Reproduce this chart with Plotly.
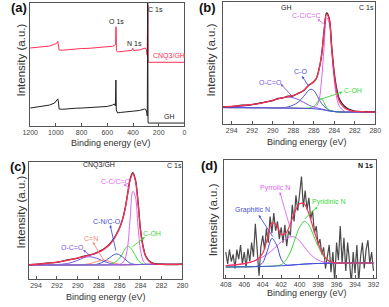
import plotly.graph_objects as go

W, H = 389, 307

# ---------------- Panel (a): survey ----------------
A_RED_E = [1200, 1150, 1100, 1050, 1010, 995, 985, 980, 975, 950, 900, 850, 800, 750, 700, 650, 600, 560,
           545, 536, 532, 529, 520, 500, 450, 410, 402, 396, 350, 305, 296, 290, 287, 285, 283, 281, 250, 200, 100, 0]
A_RED_I = [63.4, 63.8, 64.4, 65.0, 66.5, 67.0, 68.8, 66.0, 61.8, 61.6, 62.2, 62.5, 63.0, 63.1, 63.4, 63.8, 64.2, 64.8,
           65.4, 66.5, 80.7, 61.5, 60.2, 60.6, 61.0, 61.4, 63.2, 61.4, 61.8, 63.4, 62.0, 57.5, 75.0, 98.4, 53.7, 51.8, 51.8, 51.8, 51.8, 51.8]

A_BLK_E = [1200, 1150, 1100, 1050, 1010, 995, 985, 980, 975, 950, 900, 850, 800, 750, 700, 650, 600, 560,
           545, 537, 533, 530, 520, 500, 450, 400, 350, 310, 300, 292, 289, 287, 285.5, 283, 281, 250, 200, 100, 0]
A_BLK_I = [14.6, 15.4, 16.3, 17.0, 18.7, 21.1, 22.0, 19.5, 13.8, 13.6, 14.2, 14.4, 14.6, 14.8, 15.0, 15.4, 15.9, 17.0,
           17.9, 16.3, 37.4, 13.0, 10.6, 11.0, 11.4, 12.2, 12.6, 13.8, 13.4, 10.6, 8.1, 55.0, 102.0, 3.3, 2.4, 2.4, 2.4, 2.4, 2.4]

# ---------------- Panel (b): GH C 1s ----------------
E_B = [295, 294, 293, 292, 291, 290, 289.5, 289, 288.5, 288, 287.5, 287, 286.5, 286.25, 286, 285.75, 285.5,
       285.25, 285, 284.75, 284.5, 284.25, 284, 283.75, 283.5, 283, 282.5, 282, 281, 280]
B_BASE = [13.5, 13.4, 13.4, 13.3, 13.3, 13.2, 13.1, 13.1, 13.0, 13.0, 12.9, 12.8, 12.7, 12.6, 12.5, 12.3, 12.1,
          11.8, 11.5, 11.1, 10.7, 10.4, 10.2, 10.0, 9.9, 9.8, 9.8, 9.8, 9.8, 9.8]
B_DATA = [14.2, 14.3, 15.4, 15.8, 17.6, 19.2, 20.9, 21.5, 22.8, 23.1, 25.3, 27.2, 31.8, 33.0, 34.9, 37.2, 44.5,
          55.5, 75.5, 91.0, 87.0, 63.5, 42.0, 28.5, 20.5, 14.5, 11.8, 10.6, 10.1, 9.9]
B_ENV = [14.0, 14.5, 15.1, 16.0, 17.4, 19.4, 20.6, 21.7, 22.4, 23.4, 25.0, 27.5, 31.5, 33.2, 34.5, 37.5, 44.0,
         56.0, 75.0, 90.0, 86.0, 62.0, 40.0, 26.0, 18.5, 13.2, 11.2, 10.4, 10.0, 9.8]
B_CC = [13.5, 13.4, 13.4, 13.3, 13.3, 13.2, 13.1, 13.1, 13.0, 13.0, 12.9, 12.8, 12.7, 12.8, 13.0, 14.5, 19.0,
        35.0, 62.0, 87.0, 83.0, 60.0, 36.0, 21.0, 14.5, 10.5, 9.9, 9.8, 9.8, 9.8]
B_CO = [13.5, 13.4, 13.4, 13.3, 13.3, 13.2, 13.2, 13.4, 14.0, 15.5, 18.0, 22.5, 27.5, 28.5, 27.5, 24.5, 20.5,
        17.0, 14.5, 12.8, 11.5, 10.7, 10.3, 10.0, 9.9, 9.8, 9.8, 9.8, 9.8, 9.8]
B_OCO = [13.7, 13.9, 14.5, 15.8, 17.5, 19.5, 20.7, 21.6, 22.0, 21.5, 20.0, 17.8, 15.6, 14.7, 14.0, 13.3, 12.8,
         12.3, 11.8, 11.3, 10.8, 10.5, 10.2, 10.0, 9.9, 9.8, 9.8, 9.8, 9.8, 9.8]
B_COH = [13.5, 13.4, 13.4, 13.3, 13.3, 13.2, 13.1, 13.1, 13.0, 13.0, 12.9, 12.9, 13.1, 13.5, 14.3, 16.5, 19.8,
         20.8, 17.5, 13.8, 11.5, 10.6, 10.2, 10.0, 9.9, 9.8, 9.8, 9.8, 9.8, 9.8]

# ---------------- Panel (c): CNQ3/GH C 1s ----------------
E_C = E_B
C_BASE = [12.0, 12.0, 12.0, 12.0, 12.0, 12.0, 12.0, 12.0, 12.0, 12.0, 12.0, 12.0, 12.0, 12.0, 12.0, 12.05, 12.1,
          12.15, 12.2, 12.25, 12.3, 12.35, 12.4, 12.4, 12.45, 12.5, 12.5, 12.5, 12.5, 12.5]
C_DATA = [12.4, 12.5, 13.6, 14.2, 16.3, 17.8, 19.3, 20.4, 21.2, 23.4, 25.8, 29.5, 35.4, 39.5, 44.0, 50.5, 59.5,
          72.5, 85.5, 91.0, 85.0, 66.0, 41.5, 27.5, 19.5, 14.2, 12.9, 12.6, 12.4, 12.6]
C_ENV = [12.2, 12.6, 13.3, 14.5, 16.0, 18.0, 19.0, 20.0, 21.5, 23.0, 25.5, 29.0, 35.0, 39.0, 43.6, 50.0, 59.0,
         72.0, 84.5, 90.0, 84.0, 65.0, 40.0, 26.5, 18.8, 13.8, 12.7, 12.5, 12.5, 12.5]
C_CC = [12, 12, 12, 12, 12, 12, 12, 12, 12, 12, 12, 12, 12.1, 12.2, 12.5, 13.5, 17, 27, 52, 75, 70, 45, 24, 15.5,
        13, 12.5, 12.5, 12.5, 12.5, 12.5]
C_COH = [12, 12, 12, 12, 12, 12, 12, 12, 12, 12, 12.1, 12.2, 14, 15.8, 18, 21.5, 25.5, 28, 27, 24, 20, 16, 13.8,
         12.8, 12.5, 12.5, 12.5, 12.5, 12.5, 12.5]
C_CNO = [12, 12, 12, 12, 12, 12, 12, 12.05, 12.2, 13, 15, 18, 21, 21.4, 20.5, 19, 17, 15, 13.5, 12.8, 12.4, 12.35,
         12.4, 12.4, 12.45, 12.5, 12.5, 12.5, 12.5, 12.5]
C_CN = [12, 12, 12, 12, 12, 12.1, 12.3, 12.9, 14, 15.5, 16, 15, 13.5, 13, 12.6, 12.3, 12.2, 12.15, 12.2, 12.25,
        12.3, 12.35, 12.4, 12.4, 12.45, 12.5, 12.5, 12.5, 12.5, 12.5]
C_OCO = [12, 12, 12.1, 12.4, 13.2, 16, 18, 19, 18.5, 17, 15, 13.5, 12.6, 12.3, 12.1, 12.05, 12.1, 12.15, 12.2,
         12.25, 12.3, 12.35, 12.4, 12.4, 12.45, 12.5, 12.5, 12.5, 12.5, 12.5]

# ---------------- Panel (d): N 1s ----------------
E_D_RAW = [408.0, 407.8, 407.6, 407.4, 407.2, 407.0, 406.8, 406.6, 406.4, 406.2, 406.0, 405.8, 405.6, 405.4,
           405.2, 405.0, 404.8, 404.6, 404.4, 404.2, 404.0, 403.8, 403.6, 403.4, 403.2, 403.0, 402.8, 402.6,
           402.4, 402.2, 402.0, 401.8, 401.6, 401.4, 401.2, 401.0, 400.8, 400.6, 400.4, 400.2, 400.0, 399.8,
           399.6, 399.4, 399.2, 399.0, 398.8, 398.6, 398.4, 398.2, 398.0, 397.8, 397.6, 397.4, 397.2, 397.0,
           396.8, 396.6, 396.4, 396.2, 396.0, 395.8, 395.6, 395.4, 395.2, 395.0, 394.8, 394.6, 394.4, 394.2,
           394.0, 393.8, 393.6, 393.4, 393.2, 393.0, 392.8, 392.6, 392.4, 392.2, 392.0]
D_RAW = [22, 12, 24, 14, 20, 8, 24, 16, 28, 12, 22, 9, 25, 14, 30, 18, 46, 20, 2, 26, 36, 24, 42, 30, 52, 38,
         55, 40, 48, 33, 43, 30, 45, 27, 40, 36, 62, 48, 70, 57, 72, 86, 60, 74, 58, 68, 50, 57, 38, 44, 28, 33,
         20, 26, 8, 18, 28, 5, 22, -3, 30, 15, 44, 12, 34, 6, 30, 14, -5, 22, 4, 28, -4, 18, 30, 8, 24, 32, 12,
         22, 6]
E_D = [408, 407, 406, 405, 404.5, 404, 403.5, 403, 402.5, 402, 401.5, 401, 400.5, 400, 399.5, 399, 398.5, 398,
       397.5, 397, 396.5, 396, 395, 394, 393, 392]
D_BASE = [9.3, 9.4, 9.5, 9.6, 9.7, 9.8, 9.9, 10.0, 10.2, 10.4, 10.6, 10.9, 11.2, 11.5, 11.8, 12.0, 12.2, 12.3,
          12.4, 12.5, 12.6, 12.6, 12.7, 12.7, 12.7, 12.7]
D_GRAPH = [9.3, 9.4, 9.5, 9.6, 10.2, 13.0, 23.0, 33.5, 28.0, 16.0, 11.2, 10.9, 11.2, 11.5, 11.8, 12.0, 12.2,
           12.3, 12.4, 12.5, 12.6, 12.6, 12.7, 12.7, 12.7, 12.7]
D_PYRR = [10.5, 11.2, 12.2, 14.2, 15.8, 17.8, 20.3, 23.2, 27.0, 30.5, 33.0, 35.0, 34.5, 31.5, 26.5, 21.5, 17.8,
          15.2, 13.8, 13.1, 12.8, 12.7, 12.7, 12.7, 12.7, 12.7]
D_PYRI = [9.3, 9.4, 9.5, 9.6, 9.7, 9.8, 9.9, 10.0, 10.3, 11.2, 15.0, 22.0, 33.0, 43.0, 48.0, 45.0, 36.0, 27.0,
          19.5, 15.0, 13.0, 12.7, 12.7, 12.7, 12.7, 12.7]
D_ENV = [10.5, 11.2, 12.2, 14.2, 16.3, 21.0, 33.4, 46.7, 44.9, 36.9, 38.0, 46.1, 56.3, 63.0, 62.7, 54.5, 41.6,
         29.9, 20.9, 15.6, 13.2, 12.7, 12.7, 12.7, 12.7, 12.7]

# ---------------- styling ----------------
RED = "#ff2f55"
MAG = "#dd66ee"
BLUE = "#4650d6"
GREEN = "#3ad83a"
PURP = "#7a55dd"
SALM = "#ff8570"
DARK = "#333333"
FRAME = "#555555"
FONT = "Liberation Sans, Arial, sans-serif"


def px_x(p):
    return p / W


def px_y(p):
    return 1 - p / H


fig = go.Figure()


def add(x, y, color, ax, width=1.0, shape="spline"):
    fig.add_trace(go.Scatter(x=x, y=y, mode="lines", line=dict(color=color, width=width, shape=shape),
                             xaxis="x" + ax, yaxis="y" + ax, showlegend=False, hoverinfo="skip"))


# (a)
add(A_RED_E, A_RED_I, RED, "", 1.0, "linear")
add(A_BLK_E, A_BLK_I, "#222222", "", 1.0, "linear")
# (b)
add(E_B, B_OCO, PURP, "2")
add(E_B, B_CO, BLUE, "2")
add(E_B, B_COH, GREEN, "2")
add(E_B, B_CC, MAG, "2")
add(E_B, B_BASE, BLUE, "2")
add(E_B, B_DATA, "#222222", "2", 1.3)
add(E_B, B_ENV, RED, "2", 1.3)
# (c)
add(E_C, C_OCO, PURP, "3")
add(E_C, C_CN, SALM, "3")
add(E_C, C_CNO, BLUE, "3")
add(E_C, C_COH, GREEN, "3")
add(E_C, C_CC, MAG, "3")
add(E_C, C_BASE, PURP, "3")
add(E_C, C_DATA, "#222222", "3", 1.3)
add(E_C, C_ENV, RED, "3", 1.3)
# (d)
add(E_D_RAW, D_RAW, "#4a4a4a", "4", 1.2, "linear")
add(E_D, D_PYRR, MAG, "4")
add(E_D, D_GRAPH, BLUE, "4")
add(E_D, D_PYRI, GREEN, "4")
add(E_D, D_BASE, BLUE, "4")
add(E_D, D_ENV, RED, "4", 1.2)

panels = {
    "": dict(xd=(23, 183), yd=(3, 126), xr=[1200, 0], tv=[1200, 1000, 800, 600, 400, 200, 0]),
    "2": dict(xd=(223, 381), yd=(2, 124), xr=[294.85, 280], tv=list(range(294, 279, -2))),
    "3": dict(xd=(22, 181), yd=(162, 279), xr=[294.65, 280], tv=list(range(294, 279, -2))),
    "4": dict(xd=(224, 382), yd=(160, 278), xr=[408.2, 391.7], tv=list(range(408, 391, -2))),
}
layout = dict(width=W, height=H, margin=dict(l=0, r=0, t=0, b=0), autosize=False,
              paper_bgcolor="white", plot_bgcolor="white", font=dict(family=FONT, color=DARK))
for k, p in panels.items():
    xa = "xaxis" + k
    ya = "yaxis" + k
    layout[xa] = dict(domain=[px_x(p["xd"][0]), px_x(p["xd"][1])], range=p["xr"], anchor="y" + k,
                      tickvals=p["tv"], ticks="inside", ticklen=3, tickcolor=FRAME, showline=True,
                      mirror=True, linecolor=FRAME, linewidth=1, showgrid=False, zeroline=False,
                      tickfont=dict(size=7, color="#444444", family=FONT))
    layout[ya] = dict(domain=[px_y(p["yd"][1]), px_y(p["yd"][0])], range=[0, 100], anchor="x" + k,
                      showticklabels=False, ticks="", showline=True, mirror=True, linecolor=FRAME,
                      linewidth=1, showgrid=False, zeroline=False)

ann = []


def txt(x, y, s, color=DARK, size=7, bold=False, angle=0):
    ann.append(dict(x=px_x(x), y=px_y(y), xref="paper", yref="paper", text=("<b>%s</b>" % s) if bold else s,
                    showarrow=False, xanchor="center", yanchor="middle", textangle=angle,
                    font=dict(size=size, color=color, family=FONT)))


def arrow(hx, hy, tx, ty, color):
    ann.append(dict(x=px_x(hx), y=px_y(hy), xref="paper", yref="paper", text="", showarrow=True,
                    ax=tx - hx, ay=ty - hy, axref="pixel", ayref="pixel", arrowhead=2, arrowsize=0.6,
                    arrowwidth=0.9, arrowcolor=color, standoff=0, startstandoff=0))


# panel letters
txt(11, 7, "(a)", "#111111", 13, True)
txt(207, 7, "(b)", "#111111", 13, True)
txt(10, 166, "(c)", "#111111", 13, True)
txt(209, 165, "(d)", "#111111", 13, True)

# axis titles
for (x, y) in [(107, 143), (310, 142), (102, 297), (310, 293)]:
    txt(x, y, "Binding energy (eV)", DARK, 9)
for (x, y) in [(13, 60), (211, 60), (13, 212), (213, 220)]:
    txt(x, y, "Intensity (a.u.)", DARK, 11.5, angle=-90)

# (a) labels
txt(153, 9, "C 1s", "#222222", 7)
txt(113, 21, "O 1s", "#222222", 7)
txt(131, 43, "N 1s", "#222222", 7)
txt(167, 56, "CNQ3/GH", RED, 7)
txt(168, 117, "GH", "#222222", 7)

# (b) labels
txt(289, 7, "GH", "#222222", 7)
txt(372, 7, "C 1s", "#222222", 7)
txt(310, 15, "C-C/C=C", MAG, 7)
arrow(321, 19, 331, 27, MAG)
txt(303, 71, "C-O", BLUE, 7)
arrow(305, 76, 312, 87, BLUE)
txt(272, 82, "O-C=O", PURP, 7)
arrow(283, 84, 295, 97, PURP)
txt(358, 90, "C-OH", GREEN, 7)
arrow(347, 92, 323, 100, GREEN)

# (c) labels
txt(94, 165, "CNQ3/GH", "#222222", 7)
txt(173, 165, "C 1s", "#222222", 7)
txt(111, 181, "C-C/C=C", MAG, 7)
arrow(120, 184, 128, 190, MAG)
txt(103, 221, "C-N/C-O", BLUE, 7)
arrow(106, 225, 112, 252, BLUE)
txt(86, 238, "C=N", SALM, 7)
arrow(88, 242, 100, 262, SALM)
txt(67, 247, "O-C=O", PURP, 7)
arrow(78, 250, 87, 257, PURP)
txt(149, 233, "C-OH", GREEN, 7)
arrow(142, 237, 128, 248, GREEN)

# (d) labels
txt(371, 165, "N 1s", "#111111", 7, True)
txt(277, 188, "Pyrrolic N", MAG, 7)
arrow(282, 192, 292, 227, MAG)
txt(254, 210, "Graphitic N", BLUE, 7)
arrow(260, 215, 275, 238, BLUE)
txt(332, 202, "Pyridinic N", GREEN, 7)
arrow(321, 207, 307, 220, GREEN)

layout["annotations"] = ann
fig.update_layout(**layout)
fig.write_html("out.html", config={"displayModeBar": False},
               post_script="document.body.style.margin='0px';document.body.style.overflow='hidden';")
